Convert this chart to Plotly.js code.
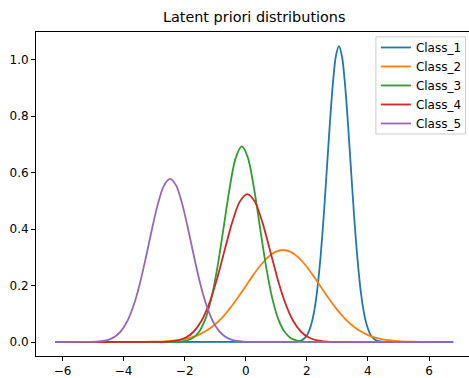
<!DOCTYPE html>
<html>
<head>
<meta charset="utf-8">
<script src="https://cdn.plot.ly/plotly-3.0.1.min.js"></script>
<style>html,body{margin:0;padding:0;background:#fff;}#chart{width:469px;height:378px;}</style>
</head>
<body>
<div id="chart"></div>
<script>
// Series names and colours
const names = ["Class_1", "Class_2", "Class_3", "Class_4", "Class_5"];
const colors = ["#1f77b4", "#ff7f0e", "#2ca02c", "#d62728", "#9467bd"];

// Values
const x1 = [-6.23, 1.55, 1.65, 1.75, 1.85, 1.95, 2.05, 2.15, 2.25, 2.35, 2.45, 2.55, 2.65, 2.75, 2.85, 2.95, 3.05, 3.15, 3.25, 3.35, 3.45, 3.55, 3.65, 3.75, 3.85, 3.95, 4.05, 4.15, 4.25, 4.35, 4.45, 4.55, 6.79];
const y1 = [0, 0.0005, 0.0012, 0.0031, 0.0073, 0.0162, 0.0334, 0.0644, 0.1156, 0.1938, 0.3033, 0.4430, 0.6040, 0.7686, 0.9131, 1.0125, 1.048, 1.0125, 0.9131, 0.7686, 0.6040, 0.4430, 0.3033, 0.1938, 0.1156, 0.0644, 0.0334, 0.0162, 0.0073, 0.0031, 0.0012, 0.0005, 0];

const x2 = [-6.23, -3.78, -3.28, -2.78, -2.53, -2.28, -2.03, -1.78, -1.53, -1.28, -1.03, -0.78, -0.53, -0.28, -0.03, 0.22, 0.47, 0.72, 0.97, 1.22, 1.47, 1.72, 1.97, 2.22, 2.47, 2.72, 2.97, 3.22, 3.47, 3.72, 3.97, 4.22, 4.47, 4.72, 4.97, 5.22, 5.72, 6.22, 6.79];
const y2 = [0, 0.0001, 0.0004, 0.0016, 0.0030, 0.0055, 0.0096, 0.0162, 0.0261, 0.0405, 0.0602, 0.0858, 0.1173, 0.1538, 0.1935, 0.2335, 0.2702, 0.2999, 0.3193, 0.326, 0.3193, 0.2999, 0.2702, 0.2335, 0.1935, 0.1538, 0.1173, 0.0858, 0.0602, 0.0405, 0.0261, 0.0162, 0.0096, 0.0055, 0.0030, 0.0016, 0.0004, 0.0001, 0];

const x3 = [-6.23, -2.53, -2.33, -2.13, -1.93, -1.73, -1.53, -1.33, -1.13, -0.93, -0.73, -0.53, -0.33, -0.13, 0.07, 0.27, 0.47, 0.67, 0.87, 1.07, 1.27, 1.47, 1.67, 1.87, 2.07, 2.27, 6.79];
const y3 = [0, 0.0001, 0.0005, 0.0017, 0.0053, 0.0146, 0.0362, 0.0791, 0.1536, 0.2642, 0.4028, 0.5446, 0.6525, 0.693, 0.6525, 0.5446, 0.4028, 0.2642, 0.1536, 0.0791, 0.0362, 0.0146, 0.0053, 0.0017, 0.0005, 0.0001, 0];

const x4 = [-6.23, -2.95, -2.70, -2.45, -2.20, -1.95, -1.70, -1.45, -1.20, -0.95, -0.70, -0.45, -0.20, 0.05, 0.30, 0.55, 0.80, 1.05, 1.30, 1.55, 1.80, 2.05, 2.30, 2.55, 2.80, 3.05, 6.79];
const y4 = [0, 0.0002, 0.0008, 0.0024, 0.0066, 0.0166, 0.0372, 0.0751, 0.1360, 0.2210, 0.3224, 0.4222, 0.4965, 0.524, 0.4965, 0.4222, 0.3224, 0.2210, 0.1360, 0.0751, 0.0372, 0.0166, 0.0066, 0.0024, 0.0008, 0.0002, 0];

const x5 = [-6.23, -5.48, -5.28, -5.08, -4.88, -4.68, -4.48, -4.28, -4.08, -3.88, -3.68, -3.48, -3.28, -3.08, -2.88, -2.68, -2.48, -2.28, -2.08, -1.88, -1.68, -1.48, -1.28, -1.08, -0.88, -0.68, -0.48, -0.28, -0.08, 0.12, 0.32, 0.52, 6.79];
const y5 = [0, 0.0001, 0.0002, 0.0005, 0.0014, 0.0036, 0.0087, 0.0192, 0.0393, 0.0738, 0.1274, 0.2022, 0.2951, 0.3961, 0.4886, 0.5542, 0.578, 0.5542, 0.4886, 0.3961, 0.2951, 0.2022, 0.1274, 0.0738, 0.0393, 0.0192, 0.0087, 0.0036, 0.0014, 0.0005, 0.0002, 0.0001, 0];

const xs = [x1, x2, x3, x4, x5];
const ys = [y1, y2, y3, y4, y5];

const FONT = "DejaVu Sans, sans-serif";
const traces = names.map((n, i) => ({
  type: "scatter", mode: "lines", name: n,
  x: xs[i], y: ys[i],
  line: {color: colors[i], width: 1.8, shape: "spline", smoothing: 0.8}
}));

const layout = {
  width: 469, height: 378,
  margin: {l: 36, r: 0, t: 32, b: 22, pad: 0},
  paper_bgcolor: "#fff", plot_bgcolor: "#fff",
  font: {family: FONT, size: 12, color: "#000"},
  title: {text: "Latent priori distributions", font: {family: FONT, size: 14.4, color: "#000"},
          x: 0.542, xanchor: "center", xref: "container", y: 0.955, yref: "container", yanchor: "middle"},
  showlegend: true,
  legend: {x: 0.785, xanchor: "left", y: 0.997, yanchor: "top",
           bgcolor: "rgba(0,0,0,0)", borderwidth: 0,
           font: {family: FONT, size: 12, color: "#000"}, tracegroupgap: 0},
  shapes: [{type: "rect", xref: "paper", yref: "paper", x0: 0.785, x1: 0.992, y0: 0.685, y1: 0.985,
            fillcolor: "rgba(255,255,255,0.8)", line: {color: "#cccccc", width: 1}, layer: "above"}],
  xaxis: {range: [-6.87, 7.31], dtick: 2, tick0: 0, showgrid: false, zeroline: false,
          showline: true, linecolor: "#000", linewidth: 1, mirror: true,
          ticks: "outside", ticklen: 4, tickwidth: 1, tickcolor: "#000",
          tickfont: {family: FONT, size: 12, color: "#000"}},
  yaxis: {range: [-0.0496, 1.0985], dtick: 0.2, tick0: 0, tickformat: ".1f", showgrid: false, zeroline: false,
          showline: true, linecolor: "#000", linewidth: 1, mirror: false,
          ticks: "outside", ticklen: 4, tickwidth: 1, tickcolor: "#000",
          tickfont: {family: FONT, size: 12, color: "#000"}}
};

Plotly.newPlot("chart", traces, layout, {staticPlot: true, displayModeBar: false});
</script>
</body>
</html>
